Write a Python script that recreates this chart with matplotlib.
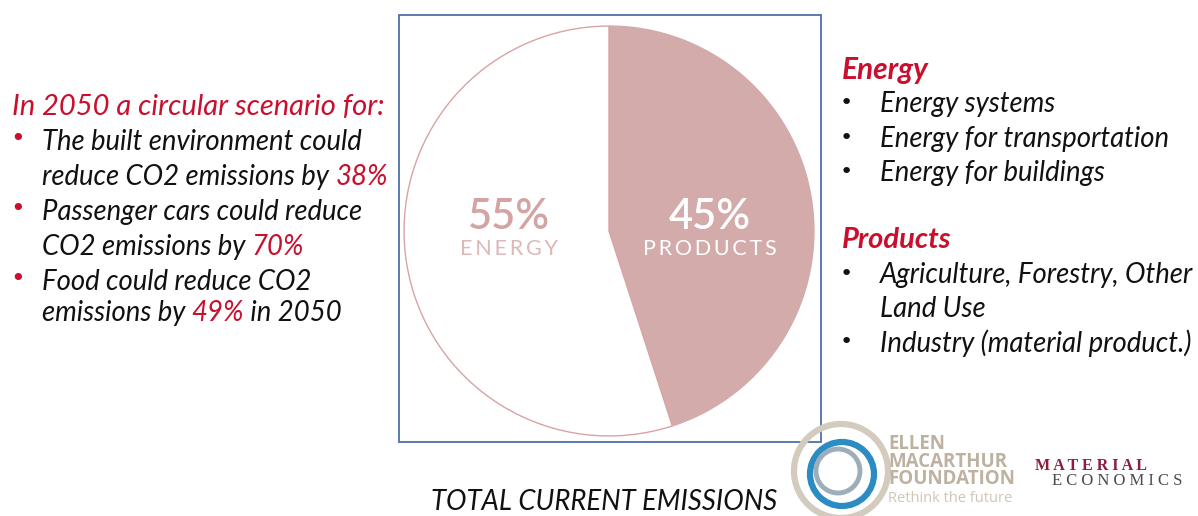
import matplotlib
matplotlib.use("Agg")
import matplotlib.pyplot as plt
from matplotlib.patches import Rectangle, Circle

# ---- data ----
categories = ["PRODUCTS", "ENERGY"]
shares = [45, 55]
share_labels = ["45%", "55%"]
left_title = "In 2050 a circular scenario for:"
left_items = [
    [("The built environment could", None)],
    [("reduce CO2 emissions by ", None), ("38%", "red")],
    [("Passenger cars could reduce", None)],
    [("CO2 emissions by ", None), ("70%", "red")],
    [("Food could reduce CO2", None)],
    [("emissions by ", None), ("49%", "red"), (" in 2050", None)],
]
bullet_lines = [0, 2, 4]
energy_items = ["Energy systems", "Energy for transportation", "Energy for buildings"]
product_items = ["Agriculture, Forestry, Other", "Land Use", "Industry (material product.)"]
product_bullets = [0, 2]
bottom_title = "TOTAL CURRENT EMISSIONS"
logo_lines = ["ELLEN", "MACARTHUR", "FOUNDATION"]
logo_tagline = "Rethink the future"

RED = "#C8102E"
BLACK = "#111111"
PINK = "#D4ABAB"
W, H = 1198, 516

fig = plt.figure(figsize=(W / 100, H / 100), dpi=100)
fig.patch.set_facecolor("white")

# ---- pie ----
cx, cy, r = 609, 231, 207
pax = fig.add_axes([(cx - r) / W, (H - cy - r) / H, 2 * r / W, 2 * r / H])
wedges, _ = pax.pie(shares, colors=[PINK, "white"], startangle=90, counterclock=False,
                    radius=1, wedgeprops=dict(linewidth=1.0))
wedges[0].set_edgecolor(PINK)
wedges[1].set_edgecolor("#D9A3A3")
pax.set_xlim(-1.01, 1.01)
pax.set_ylim(-1.01, 1.01)
pax.set_aspect("equal")
pax.axis("off")

def spaced(s):
    return "\u2009".join(list(s))

pax.text(0.49, 0.07, share_labels[0], color="white", fontsize=30, ha="center", va="center",
         family="Lato", weight="semibold")
pax.text(0.49, -0.09, spaced(categories[0]), color="white", fontsize=15.5, ha="center", va="center",
         family="Lato")
pax.text(-0.49, 0.07, share_labels[1], color="#D4A3A3", fontsize=30, ha="center", va="center",
         family="Lato", weight="semibold")
pax.text(-0.49, -0.09, spaced(categories[1]), color="#DDB8B8", fontsize=15.5, ha="center", va="center",
         family="Lato")

# ---- overlay in pixel coordinates ----
ov = fig.add_axes([0, 0, 1, 1], zorder=5)
ov.set_xlim(0, W)
ov.set_ylim(H, 0)
ov.axis("off")
ov.patch.set_alpha(0)

ov.add_patch(Rectangle((399, 15), 422, 427, fill=False, edgecolor="#4E6FA8", linewidth=1.3))

FS = 19.8
FONT = "Lato"

def line(x, y, parts, size=FS, weight="normal"):
    t = None
    for txt, col in parts:
        c = RED if col == "red" else BLACK
        if t is None:
            t = ov.text(x, y, txt, color=c, fontsize=size, style="italic", family=FONT,
                        weight=weight, va="center", ha="left")
        else:
            t = ov.annotate(txt, xy=(1, 0), xycoords=t, color=c, fontsize=size, style="italic",
                            family=FONT, weight=weight, va="bottom", ha="left")
    return t

ov.text(12, 107, left_title, color=RED, fontsize=21, style="italic", family=FONT, va="center")
ys = [142, 177, 212, 247, 282, 313]
for i, (parts, y) in enumerate(zip(left_items, ys)):
    line(42, y, parts)
    if i in bullet_lines:
        ov.text(18, y - 3, "\u2022", color=RED, fontsize=18, va="center", ha="center")

# right text
ov.text(842, 70, "Energy", color=RED, fontsize=21.5, style="italic", weight="bold", family=FONT, va="center")
for txt, y in zip(energy_items, [104, 139, 173]):
    ov.text(846, y - 1, "\u2022", color=BLACK, fontsize=16, va="center", ha="center")
    line(880, y, [(txt, None)])
ov.text(842, 240, "Products", color=RED, fontsize=21, style="italic", weight="bold", family=FONT, va="center")
for i, (txt, y) in enumerate(zip(product_items, [275, 309, 343])):
    if i in product_bullets:
        ov.text(846, y - 1, "\u2022", color=BLACK, fontsize=16, va="center", ha="center")
    line(880, y, [(txt, None)])

# bottom title
ov.text(604, 502, bottom_title, color=BLACK, fontsize=19.8, style="italic", family=FONT,
        ha="center", va="center")

# ---- logos ----
ov.add_patch(Circle((841, 471), 47, fill=False, edgecolor="#D3CCBE", linewidth=4.5))
ov.add_patch(Circle((842, 474), 32, fill=False, edgecolor="#2B8CC4", linewidth=4.5))
ov.add_patch(Circle((838, 471), 22, fill=False, edgecolor="#9DAEBB", linewidth=3.5))
beige = "#BDB2A2"
ov.text(888, 434, "\n".join(logo_lines), color=beige, fontsize=13.5, weight="bold",
        family="Open Sans", ha="left", va="top", linespacing=0.84)
ov.text(888, 499, logo_tagline, color="#CFC6B8", fontsize=10.5, family="Open Sans",
        ha="left", va="center")
ov.text(1035, 466, "M A T E R I A L", color="#8E1D3B", fontsize=11.5, weight="bold",
        family="Liberation Serif", ha="left", va="center")
ov.text(1052, 481, "E C O N O M I C S", color="#4A4A4A", fontsize=12,
        family="Liberation Serif", ha="left", va="center")

fig.savefig("out.png", dpi=100, facecolor="white")
